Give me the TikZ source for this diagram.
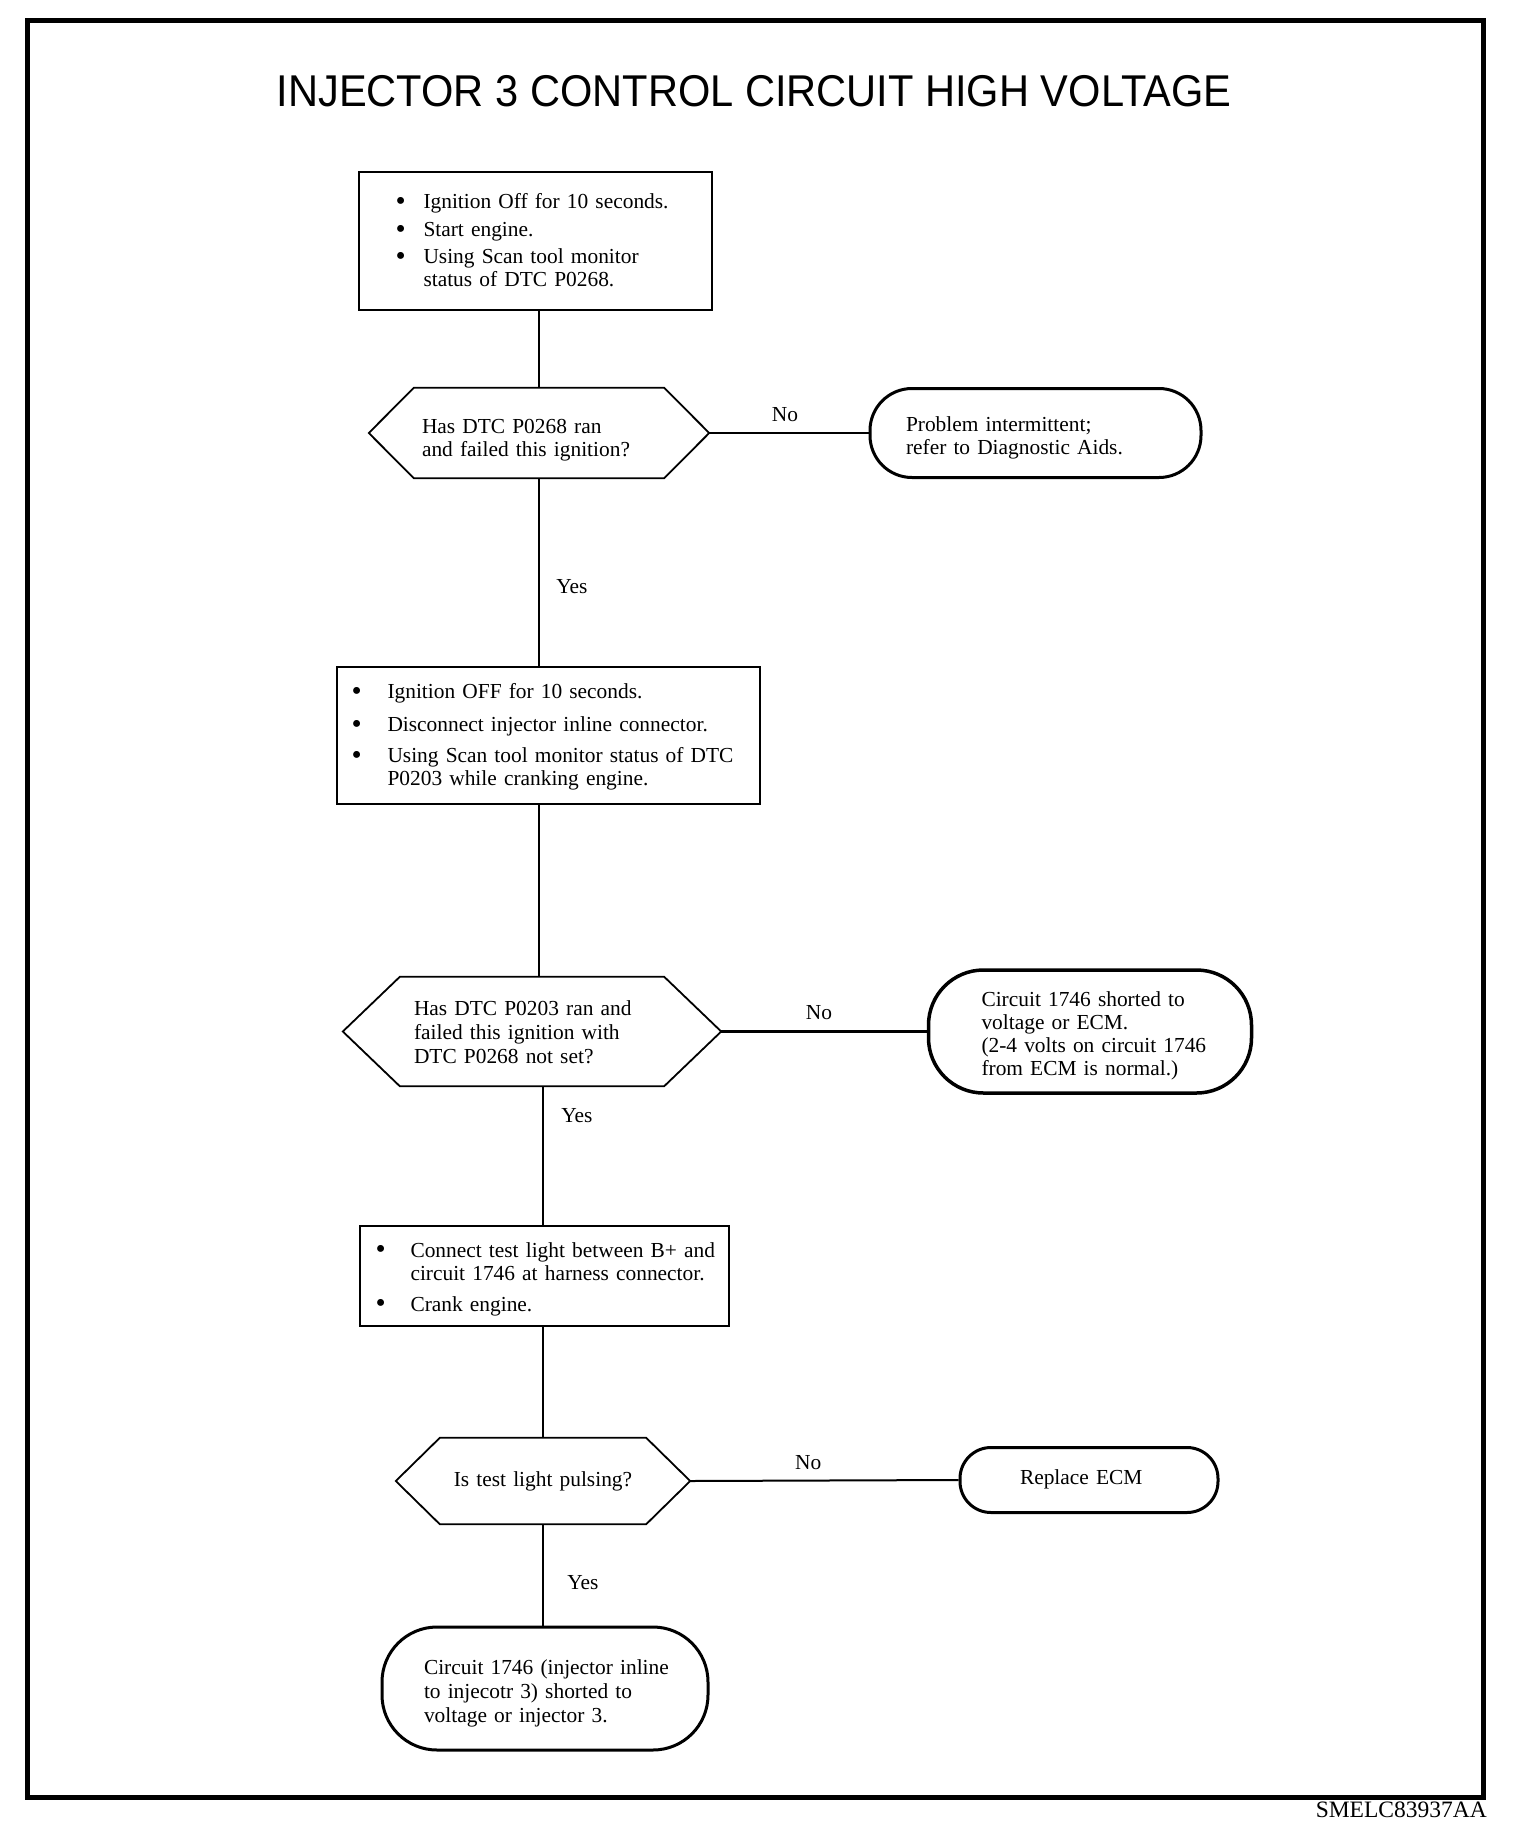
\documentclass[tikz,border=0pt]{standalone}
\usepackage{fontspec}
\usepackage{graphicx}
\setmainfont{Liberation Serif}
\newfontfamily\titlefont{Liberation Sans}
\usetikzlibrary{calc}
\tikzset{
  base/.style={font=\fontsize{21.4}{23}\selectfont, inner sep=0pt, align=left},
  procbox/.style={base, draw, line width=2pt},
  decision/.style={base},
  term/.style={base, draw, line width=3pt},
  conn/.style={line width=2pt},
  thickconn/.style={line width=3pt},
  hexline/.style={line width=1.8pt, line join=miter},
  lbl/.style={font=\fontsize{21.4}{23}\selectfont, inner sep=0pt},
}
\newcommand\hexdraw[2]{\draw[hexline] (#1.west) -- ([xshift=#2]#1.north west) -- ([xshift=-#2]#1.north east) -- (#1.east) -- ([xshift=-#2]#1.south east) -- ([xshift=#2]#1.south west) -- cycle;}
% [down-shift]{left pad}{lines}
\newcommand\padl[3][0]{\hspace*{#2pt}\raisebox{-#1pt}[\height][\depth]{\begin{tabular}[c]{@{}l@{}}#3\end{tabular}}}
% [down-shift]{left pad}{bullet gap}{rows}
\newcommand\bul[4][0]{\hspace*{#2pt}\raisebox{-#1pt}[\height][\depth]{\begin{tabular}[c]{@{}l@{\hspace{#3pt}}l@{}}#4\end{tabular}}}
\newcommand\bigbul{\makebox[7.5pt][c]{\raisebox{-1.5pt}{\scalebox{1.35}{\textbullet}}}}
\begin{document}
\begin{tikzpicture}[x=1pt,y=-1pt]
\useasboundingbox (0,0) rectangle (1520,1840);
\draw[line width=5pt] (27,20) rectangle (1483,1797);
\node[font=\titlefont\fontsize{41.6}{42}\selectfont, inner sep=0pt] (title) at (754,91) {\scalebox{1}[1.07]{INJECTOR 3 CONTROL CIRCUIT HIGH VOLTAGE}};

% step 1
\node[procbox, text width=353pt, minimum height=138pt] (box1) at (535.5,241)
  {\bul[2]{38}{19}{\bigbul & Ignition Off for 10 seconds.\\[5pt] \bigbul & Start engine.\\[4pt] \bigbul & Using Scan tool monitor\\ & status of DTC P0268.}};

\node[decision, text width=340pt, minimum height=90pt] (hex1) at (539,433)
  {\padl[7]{53}{Has DTC P0268 ran\\ and failed this ignition?}};
\hexdraw{hex1}{45}

\node[term, rounded corners=42pt, text width=331pt, minimum height=89pt] (t1) at (1035.5,433)
  {\padl[5]{36}{Problem intermittent;\\ refer to Diagnostic Aids.}};

% step 2
\node[procbox, text width=423pt, minimum height=137pt] (box2) at (548.5,735.5)
  {\bul[2]{16}{27}{\bigbul & Ignition OFF for 10 seconds.\\[10pt] \bigbul & Disconnect injector inline connector.\\[8pt] \bigbul & Using Scan tool monitor status of DTC\\ & P0203 while cranking engine.}};

\node[decision, text width=378pt, minimum height=109pt] (hex2) at (532,1031.5)
  {\padl[3]{71}{Has DTC P0203 ran and\\[1pt] failed this ignition with\\[1pt] DTC P0268 not set?}};
\hexdraw{hex2}{57}

\node[term, line width=3.5pt, rounded corners=55pt, text width=323pt, minimum height=123pt] (t2) at (1090,1031.5)
  {\padl[5]{53}{Circuit 1746 shorted to\\ voltage or ECM.\\ (2-4 volts on circuit 1746\\ from ECM is normal.)}};

% step 3
\node[procbox, text width=369pt, minimum height=100pt] (box3) at (544.5,1276)
  {\bul[3.5]{17}{26}{\bigbul & Connect test light between B+ and\\ & circuit 1746 at harness connector.\\[8pt] \bigbul & Crank engine.}};

\node[decision, align=center, text width=294pt, minimum height=86pt] (hex3) at (543,1481)
  {Is test light pulsing?};
\hexdraw{hex3}{44}

\node[term, rounded corners=31pt, text width=258pt, minimum height=65pt] (t3) at (1089,1480)
  {\padl{60}{Replace ECM}};

\node[term, rounded corners=55pt, text width=326pt, minimum height=123pt] (t4) at (545,1688.5)
  {\padl[5]{42}{Circuit 1746 (injector inline\\[1pt] to injecotr 3) shorted to\\[1pt] voltage or injector 3.}};

% connectors
\draw[conn] (box1.south -| hex1.north) -- (hex1.north);
\draw[conn] (hex1.east) -- node[lbl, pos=0.475, yshift=18pt] (no1) {No} (t1.west);
\draw[conn] (hex1.south) -- node[lbl, pos=0.577, xshift=33pt] (yes1) {Yes} (hex1.south |- box2.north);
\draw[conn] (hex1.south |- box2.south) -- (hex1.south |- hex2.north);
\draw[thickconn] (hex2.east) -- node[lbl, pos=0.476, yshift=18.5pt] (no2) {No} (t2.west);
\draw[conn] (hex3.north |- hex2.south) -- node[lbl, pos=0.214, xshift=34pt] (yes2) {Yes} (hex3.north |- box3.north);
\draw[conn] (hex3.north |- box3.south) -- (hex3.north);
\draw[conn] (hex3.east) -- node[lbl, pos=0.44, yshift=18pt] (no3) {No} (t3.west);
\draw[conn] (hex3.south) -- node[lbl, pos=0.58, xshift=40pt] (yes3) {Yes} (hex3.south |- t4.north);

\node[anchor=east, font=\fontsize{23.5}{23.5}\selectfont, inner sep=0pt] (code) at (1487,1810) {SMELC83937AA};
\end{tikzpicture}
\end{document}
